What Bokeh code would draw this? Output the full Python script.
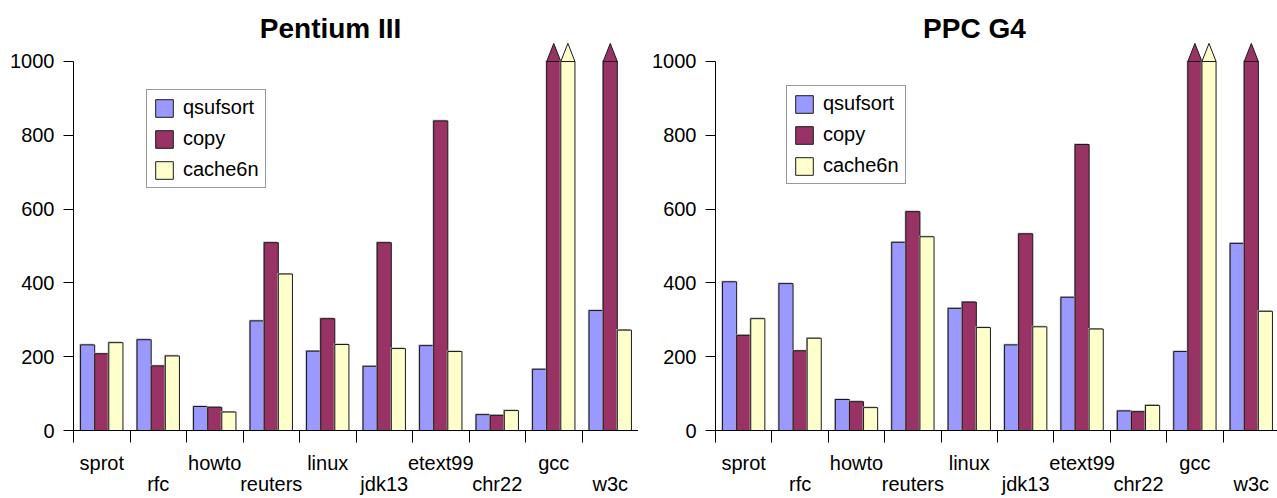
from bokeh.plotting import figure
from bokeh.models import (Range1d, FixedTicker, LinearAxis, Legend, LegendItem,
                          Label, ColumnDataSource)
from bokeh.layouts import row
from bokeh.embed import file_html
from bokeh.resources import INLINE

# ---------------- data ----------------
categories = ["sprot", "rfc", "howto", "reuters", "linux", "jdk13",
              "etext99", "chr22", "gcc", "w3c"]
series_names = ["qsufsort", "copy", "cache6n"]
OFF = None  # value above the 1000 axis limit (drawn clipped, with an arrow)

p3_qsufsort = [232, 246, 65, 297, 215, 174, 230, 43, 166, 325]
p3_copy     = [208, 175, 63, 509, 303, 509, 839, 41, OFF, OFF]
p3_cache6n  = [238, 202, 50, 424, 233, 222, 214, 54, OFF, 272]

g4_qsufsort = [403, 398, 84, 510, 331, 232, 361, 53, 214, 507]
g4_copy     = [258, 216, 78, 593, 348, 533, 775, 51, OFF, OFF]
g4_cache6n  = [303, 250, 62, 525, 279, 281, 275, 68, OFF, 323]

y_ticks = [0, 200, 400, 600, 800, 1000]
Y_CAP = 1000

# ---------------- style ----------------
FONT = "Liberation Sans"
COLORS = ["#9999FF", "#993366", "#FFFFCC"]
OUTLINE = "#1a1a1a"
BAR_W = 0.25
ARROW_H = 49
SHADOW_DX = -0.02
SHADOW_DY = 3


def panel(title, series, width, left_border, x_end, title_x, legend_loc):
    p = figure(width=width, height=498, output_backend="svg", toolbar_location=None,
               x_range=Range1d(0, x_end), y_range=Range1d(0, 1165.3),
               min_border_left=left_border, min_border_right=0,
               min_border_top=0, min_border_bottom=68,
               x_axis_location=None, y_axis_location=None)
    p.outline_line_color = None
    p.xgrid.visible = False
    p.ygrid.visible = False
    p.background_fill_color = "white"

    # y axis
    yax = LinearAxis(ticker=FixedTicker(ticks=y_ticks), bounds=(0, Y_CAP))
    yax.major_tick_out = 10
    yax.major_tick_in = 0
    yax.minor_tick_line_color = None
    yax.major_label_standoff = 9
    yax.major_label_text_font = FONT
    yax.major_label_text_font_size = "20px"
    yax.major_label_text_color = "black"
    yax.axis_line_color = "black"
    yax.major_tick_line_color = "black"
    p.add_layout(yax, "left")

    # x axis line with tick marks at category boundaries (minor ticks, no labels)
    ax1 = LinearAxis(ticker=FixedTicker(ticks=[],
                                        minor_ticks=list(range(len(categories) + 1))))
    ax1.minor_tick_out = 12
    ax1.minor_tick_in = 0
    ax1.minor_tick_line_color = "black"
    ax1.major_tick_line_color = None
    ax1.major_label_standoff = 0
    ax1.axis_line_color = "black"
    p.add_layout(ax1, "below")

    # staggered category labels
    for parity, standoff in ((0, 9), (1, -4)):
        idx = [i for i in range(len(categories)) if i % 2 == parity]
        ax = LinearAxis(ticker=FixedTicker(ticks=[i + 0.5 for i in idx]))
        ax.major_label_overrides = {i + 0.5: categories[i] for i in idx}
        ax.axis_line_color = None
        ax.major_tick_line_color = None
        ax.minor_tick_line_color = None
        ax.major_tick_out = 0
        ax.major_tick_in = 0
        ax.major_label_standoff = standoff
        ax.major_label_text_font = FONT
        ax.major_label_text_font_size = "20px"
        ax.major_label_text_color = "black"
        p.add_layout(ax, "below")

    items = []
    for k, (name, vals) in enumerate(zip(series_names, series)):
        xs = [i + 0.25 * (k + 1) for i in range(len(categories))]
        tops = [Y_CAP if v is None else v for v in vals]
        src = ColumnDataSource(dict(x=xs, top=tops,
                                    xs_sh=[x + SHADOW_DX for x in xs],
                                    top_sh=[t + SHADOW_DY for t in tops]))
        p.vbar(x="xs_sh", top="top_sh", bottom=0, width=BAR_W, source=src,
               fill_color="#a8a8a8", line_color=None)
        r = p.vbar(x="x", top="top", bottom=0, width=BAR_W, source=src,
                   fill_color=COLORS[k], line_color=OUTLINE, line_width=1)
        items.append(LegendItem(label=name, renderers=[r]))
        # arrows on off-scale bars
        ax_, ay_ = [], []
        for x, v in zip(xs, vals):
            if v is None:
                ax_.append([x - BAR_W / 2, x + BAR_W / 2, x])
                ay_.append([Y_CAP, Y_CAP, Y_CAP + ARROW_H])
        if ax_:
            p.patches(ax_, ay_, fill_color=COLORS[k], line_color=OUTLINE, line_width=1)

    legend = Legend(items=items, location=legend_loc)
    legend.glyph_width = 22
    legend.glyph_height = 22
    legend.label_height = 22
    legend.label_standoff = 8
    legend.spacing = 8
    legend.padding = 6
    legend.margin = 0
    legend.label_text_font = FONT
    legend.label_text_font_size = "20px"
    legend.label_text_color = "black"
    legend.border_line_color = "#333333"
    legend.border_line_width = 1
    legend.background_fill_color = "white"
    legend.background_fill_alpha = 1
    p.add_layout(legend)

    p.add_layout(Label(x=title_x, y=1089, text=title, text_font=FONT,
                       text_font_size="28px", text_font_style="bold",
                       text_align="center", text_baseline="alphabetic",
                       text_color="black"))
    return p


p1 = panel("Pentium III", [p3_qsufsort, p3_copy, p3_cache6n],
           width=638, left_border=73, x_end=10, title_x=4.55, legend_loc=(73, 242))
p2 = panel("PPC G4", [g4_qsufsort, g4_copy, g4_cache6n],
           width=639, left_border=77, x_end=562 / 56.4, title_x=4.59, legend_loc=(71, 246))

layout = row(p1, p2)
open("out.html", "w").write(file_html(layout, INLINE))
